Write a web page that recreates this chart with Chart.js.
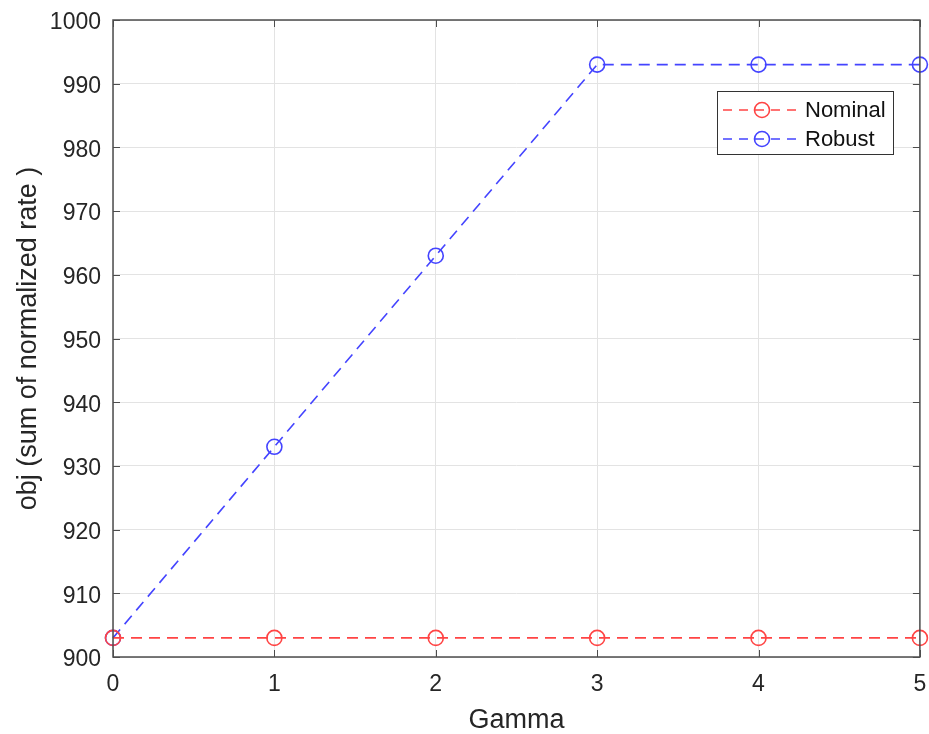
<!DOCTYPE html>
<html>
<head>
<meta charset="utf-8">
<script src="https://cdn.jsdelivr.net/npm/chart.js@4/dist/chart.umd.min.js"></script>
<style>
    html, body { margin: 0; padding: 0; background: #fff; }
    #wrap { width: 929px; height: 734px; }
</style>
</head>
<body>
<div id="wrap"><canvas id="objChart" width="929" height="734"></canvas></div>
<script>
// values
var gamma = [0, 1, 2, 3, 4, 5];
var nominalObj = [903, 903, 903, 903, 903, 903];
var robustObj = [903, 933, 963, 993, 993, 993];
var yTicks = [900, 910, 920, 930, 940, 950, 960, 970, 980, 990, 1000];

var FONT = "'Liberation Sans', Arial, sans-serif";
var AXIS_COLOR = '#4d4d4d';

function toPoints(xs, ys) {
    var pts = [];
    for (let i = 0; i < xs.length; i++) {
        pts.push({ x: xs[i], y: ys[i] });
    }
    return pts;
}

// box round the axes, inward ticks, and the legend box
var matlabFrame = {
    id: 'matlabFrame',
    afterDatasetsDraw: function (chart) {
        let ctx = chart.ctx;
        let a = chart.chartArea;
        let xs = chart.scales.x, ys = chart.scales.y;
        ctx.save();
        ctx.strokeStyle = AXIS_COLOR;
        ctx.lineWidth = 1.5;
        ctx.strokeRect(a.left, a.top, a.right - a.left, a.bottom - a.top);
        ctx.lineWidth = 1;
        for (let i = 0; i < gamma.length; i++) {
            let px = Math.round(xs.getPixelForValue(gamma[i])) + 0.5;
            ctx.beginPath();
            ctx.moveTo(px, a.bottom); ctx.lineTo(px, a.bottom - 7);
            ctx.moveTo(px, a.top); ctx.lineTo(px, a.top + 7);
            ctx.stroke();
        }
        for (let i = 0; i < yTicks.length; i++) {
            let py = Math.round(ys.getPixelForValue(yTicks[i])) + 0.5;
            ctx.beginPath();
            ctx.moveTo(a.left, py); ctx.lineTo(a.left + 7, py);
            ctx.moveTo(a.right, py); ctx.lineTo(a.right - 7, py);
            ctx.stroke();
        }

        // legend
        let bx = 717, by = 91, bw = 176, bh = 63;
        ctx.fillStyle = '#fff';
        ctx.fillRect(bx, by, bw, bh);
        ctx.strokeStyle = '#333';
        ctx.lineWidth = 1;
        ctx.strokeRect(bx + 0.5, by + 0.5, bw, bh);
        ctx.font = '22px ' + FONT;
        ctx.textBaseline = 'middle';
        chart.data.datasets.forEach(function (ds, i) {
            let cy = by + 19 + i * 29;
            ctx.strokeStyle = ds.borderColor;
            ctx.lineWidth = 1.6;
            ctx.setLineDash([9, 7]);
            ctx.beginPath();
            ctx.moveTo(bx + 6, cy); ctx.lineTo(bx + 81, cy);
            ctx.stroke();
            ctx.setLineDash([]);
            ctx.beginPath();
            ctx.arc(bx + 45, cy, 7.5, 0, Math.PI * 2);
            ctx.stroke();
            ctx.fillStyle = '#111';
            ctx.fillText(ds.label, bx + 88, cy + 1);
        });
        ctx.restore();
    }
};

var objChart = new Chart(document.getElementById('objChart'), {
    type: 'line',
    data: {
        datasets: [{
            label: 'Nominal',
            data: toPoints(gamma, nominalObj),
            borderColor: '#ff4444',
            backgroundColor: 'transparent',
            borderWidth: 1.6,
            borderDash: [11, 7],
            pointStyle: 'circle',
            pointRadius: 7.5,
            pointBorderWidth: 1.6,
            pointBackgroundColor: 'transparent',
            pointBorderColor: '#ff4444',
            clip: false
        }, {
            label: 'Robust',
            data: toPoints(gamma, robustObj),
            borderColor: '#4444ff',
            backgroundColor: 'transparent',
            borderWidth: 1.6,
            borderDash: [11, 7],
            pointStyle: 'circle',
            pointRadius: 7.5,
            pointBorderWidth: 1.6,
            pointBackgroundColor: 'transparent',
            pointBorderColor: '#4444ff',
            clip: false
        }]
    },
    options: {
        responsive: false,
        animation: false,
        layout: { padding: { top: 20, right: 9, left: 0, bottom: 0 } },
        plugins: {
            legend: { display: false },
            tooltip: { enabled: false }
        },
        scales: {
            x: {
                type: 'linear',
                min: 0,
                max: 5,
                afterBuildTicks: function (scale) {
                    scale.ticks = gamma.map(function (v) { return { value: v }; });
                },
                afterFit: function (scale) {
                    scale.height = 77;
                    scale.paddingLeft = 0;
                    scale.paddingRight = 0;
                },
                grid: { color: '#e3e3e3', lineWidth: 1, drawTicks: false },
                border: { display: false },
                ticks: {
                    color: '#262626',
                    font: { family: FONT, size: 23 },
                    padding: 14,
                    maxRotation: 0,
                    callback: function (v) { return String(v); }
                },
                title: {
                    display: true,
                    text: 'Gamma',
                    color: '#262626',
                    font: { family: FONT, size: 27 },
                    padding: { top: 0, bottom: -3 }
                }
            },
            y: {
                type: 'linear',
                min: 900,
                max: 1000,
                afterBuildTicks: function (scale) {
                    scale.ticks = yTicks.map(function (v) { return { value: v }; });
                },
                afterFit: function (scale) {
                    scale.width = 113;
                    scale.paddingTop = 0;
                    scale.paddingBottom = 0;
                },
                grid: { color: '#e3e3e3', lineWidth: 1, drawTicks: false },
                border: { display: false },
                ticks: {
                    color: '#262626',
                    font: { family: FONT, size: 23 },
                    padding: 12,
                    labelOffset: 3,
                    callback: function (v) { return String(v); }
                },
                title: {
                    display: true,
                    text: 'obj (sum of normalized rate )',
                    color: '#262626',
                    font: { family: FONT, size: 27 },
                    padding: { top: 12, bottom: 0 }
                }
            }
        }
    },
    plugins: [matlabFrame]
});
</script>
</body>
</html>
